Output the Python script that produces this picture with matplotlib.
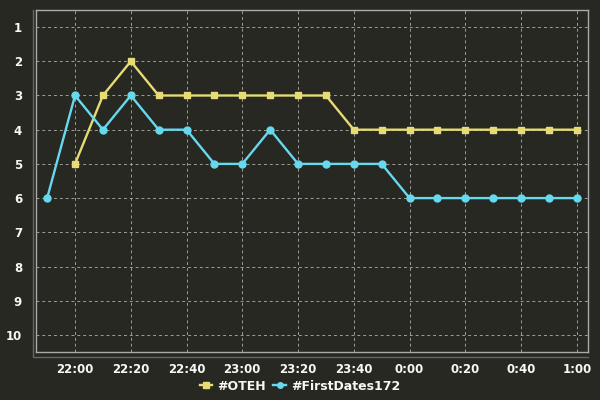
import matplotlib
matplotlib.use("Agg")
import matplotlib.pyplot as plt
import matplotlib.dates as mdates
from matplotlib.ticker import FuncFormatter
import pandas as pd

oteh_times = ["22:00", "22:10", "22:20", "22:30", "22:40", "22:50", "23:00", "23:10",
              "23:20", "23:30", "23:40", "23:50", "00:00", "00:10", "00:20", "00:30",
              "00:40", "00:50", "01:00"]
oteh_ranks = [5, 3, 2, 3, 3, 3, 3, 3, 3, 3, 4, 4, 4, 4, 4, 4, 4, 4, 4]

fd_times = ["21:50", "22:00", "22:10", "22:20", "22:30", "22:40", "22:50", "23:00",
            "23:10", "23:20", "23:30", "23:40", "23:50", "00:00", "00:10", "00:20",
            "00:30", "00:40", "00:50", "01:00"]
fd_ranks = [6, 3, 4, 3, 4, 4, 5, 5, 4, 5, 5, 5, 5, 6, 6, 6, 6, 6, 6, 6]

series_names = ["#OTEH", "#FirstDates172"]


def to_dt(ts):
    out = []
    for t in ts:
        h = int(t.split(":")[0])
        day = "2020-01-01" if h >= 12 else "2020-01-02"
        out.append(pd.Timestamp(f"{day} {t}"))
    return out


bg = "#272822"
yellow = "#e6db74"
cyan = "#66d9ef"
fg = "#f8f8f2"

plt.rcParams['font.family'] = ['DejaVu Sans']
fig = plt.figure(figsize=(6, 4), dpi=100, facecolor=bg)
ax = fig.add_axes([0.06, 0.12, 0.92, 0.855], facecolor=bg)

ax.plot(to_dt(oteh_times), oteh_ranks, color=yellow, lw=1.7, marker="s", ms=5,
        label=series_names[0], zorder=3)
ax.plot(to_dt(fd_times), fd_ranks, color=cyan, lw=1.7, marker="o", ms=5,
        label=series_names[1], zorder=3)

ax.set_ylim(10.5, 0.5)
ax.set_yticks(range(1, 11))
ax.set_xlim(pd.Timestamp("2020-01-01 21:46"), pd.Timestamp("2020-01-02 01:04"))
ax.xaxis.set_major_locator(mdates.MinuteLocator(byminute=[0, 20, 40]))
ax.xaxis.set_major_formatter(FuncFormatter(
    lambda v, p: f"{mdates.num2date(v).hour}:{mdates.num2date(v).minute:02d}"))

ax.grid(True, color="#bbbbbb", ls=(0, (3, 3)), lw=0.7, alpha=0.8)
for s in ax.spines.values():
    s.set_color("#aaaaaa")
    s.set_linewidth(1.0)
ax.tick_params(colors=fg, length=0, labelsize=8.5)
ax.tick_params(axis="x", pad=8)
ax.tick_params(axis="y", pad=10)
for lab in ax.get_xticklabels() + ax.get_yticklabels():
    lab.set_fontweight("bold")

# offset axis lines
ax.plot([-0.005, -0.005], [-0.012, 1.0], transform=ax.transAxes, color="#666660",
        lw=1.0, clip_on=False)
ax.plot([-0.005, 1.0], [-0.014, -0.014], transform=ax.transAxes, color="#666660",
        lw=1.0, clip_on=False)

leg = fig.legend(loc="lower center", bbox_to_anchor=(0.5, -0.01), ncol=2,
                 frameon=False, fontsize=9, handlelength=1.0, handletextpad=0.4,
                 columnspacing=0.6, markerscale=0.8)
for t in leg.get_texts():
    t.set_color(fg)
    t.set_fontweight("bold")

fig.savefig("out.png", dpi=100, facecolor=bg)
